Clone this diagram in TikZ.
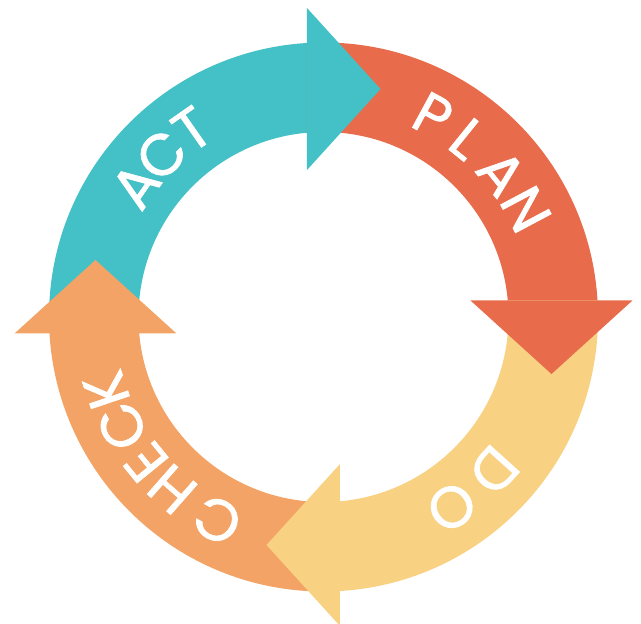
\documentclass[tikz,border=0pt]{standalone}
\usepackage{fontspec}
\setmainfont{Poppins}[FakeBold=1.2]
\definecolor{actc}{HTML}{43C1C6}
\definecolor{planc}{HTML}{E86C4C}
\definecolor{doc}{HTML}{F8D282}
\definecolor{checkc}{HTML}{F2A365}
\tikzset{
  ring/.style={even odd rule},
  letter/.style={text=white, anchor=base, inner sep=0pt, font=\fontsize{58}{58}\selectfont}
}
\begin{document}
\begin{tikzpicture}[x=1pt,y=1pt]
\useasboundingbox (-323.5,-307) rectangle (317.5,317);
% bands
\begin{scope}
  \clip (-400,-16) rectangle (-16.5,400);
  \fill[actc, ring] (0,0) circle (274.5) (0,0) circle (185);
\end{scope}
\begin{scope}
  \clip (-16.5,16) rectangle (400,400);
  \fill[planc, ring] (0,0) circle (274.5) (0,0) circle (185);
\end{scope}
\begin{scope}
  \clip (16.5,16) rectangle (400,-400);
  \fill[doc, ring] (0,0) circle (274.5) (0,0) circle (185);
\end{scope}
\begin{scope}
  \clip (16.5,-16) rectangle (-400,-400);
  \fill[checkc, ring] (0,0) circle (274.5) (0,0) circle (185);
\end{scope}
% arrow heads
\fill[actc] (-16.5,147) -- (57,228) -- (-16.5,309) -- cycle;
\fill[planc] (147,16.5) -- (228,-57) -- (309,16.5) -- cycle;
\fill[doc] (16.5,-147) -- (-57,-228) -- (16.5,-309) -- cycle;
\fill[checkc] (-147,-16.5) -- (-228,57) -- (-309,-16.5) -- cycle;
% labels
\def\rb{209}
\node[letter, rotate=55]  (act1) at (145:\rb) {A};
\node[letter, rotate=45]  (act2) at (135:\rb) {C};
\node[letter, rotate=35]  (act3) at (125:\rb) {T};
\node[letter, rotate=-28.5] (plan1) at (61.5:\rb) {P};
\node[letter, rotate=-39]   (plan2) at (51:\rb) {L};
\node[letter, rotate=-51]   (plan3) at (39:\rb) {A};
\node[letter, rotate=-62]   (plan4) at (28:\rb) {N};
\node[letter, rotate=-132]  (do1) at (-42:\rb) {D};
\node[letter, rotate=-146]  (do2) at (-56:\rb) {O};
\node[letter, rotate=152.4] (chk1) at (242.4:\rb) {C};
\node[letter, rotate=138.7] (chk2) at (228.7:\rb) {H};
\node[letter, rotate=129.3] (chk3) at (219.3:\rb) {E};
\node[letter, rotate=118.5] (chk4) at (208.5:\rb) {C};
\node[letter, rotate=108.6] (chk5) at (198.6:\rb) {K};
\end{tikzpicture}
\end{document}
